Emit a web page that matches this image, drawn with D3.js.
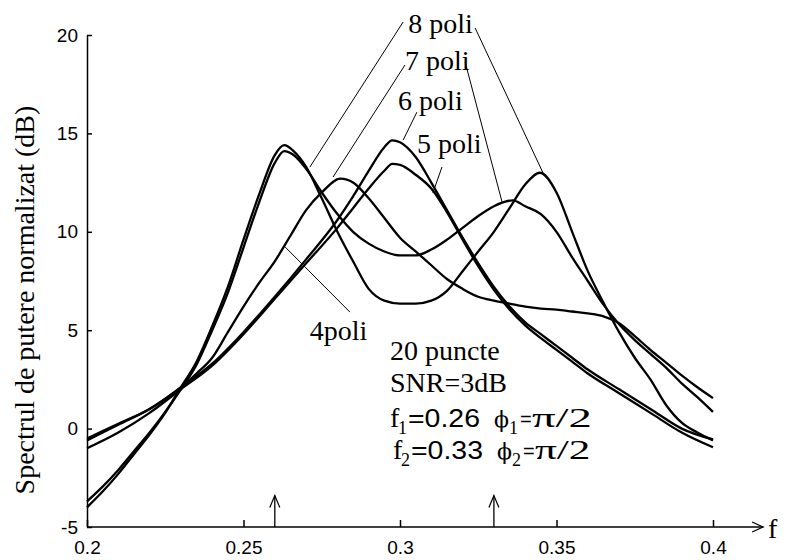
<!DOCTYPE html>
<html><head><meta charset="utf-8">
<script src="https://cdn.jsdelivr.net/npm/d3@7"></script>
<style>body{margin:0;background:#fff} svg{display:block}</style>
</head><body>
<svg id="chart" width="793" height="560"></svg>
<script>
// ---------- data ----------
const xTicks = [0.2, 0.25, 0.3, 0.35, 0.4];
const yTicks = [-5, 0, 5, 10, 15, 20];

const f8 = [0.200,0.205,0.210,0.215,0.220,0.225,0.230,0.235,0.240,0.245,0.250,0.255,0.260,0.263,0.266,0.270,0.275,0.280,0.285,0.290,0.295,0.300,0.305,0.310,0.315,0.320,0.325,0.330,0.335,0.340,0.3447,0.350,0.355,0.360,0.365,0.370,0.375,0.380,0.385,0.390,0.395,0.400];
const db8 = [-4.0,-3.2,-2.3,-1.3,-0.3,0.8,2.1,3.4,5.2,7.2,9.6,11.9,13.9,14.4,14.1,13.3,11.7,10.0,8.5,7.1,6.5,6.35,6.35,6.5,7.0,8.0,9.0,10.0,11.2,12.4,13.0,12.0,10.0,8.0,6.4,4.9,3.6,2.5,1.2,0.3,-0.2,-0.6];

const f7 = [0.200,0.205,0.210,0.215,0.220,0.225,0.230,0.235,0.240,0.245,0.250,0.255,0.260,0.263,0.266,0.270,0.275,0.280,0.285,0.290,0.295,0.300,0.305,0.310,0.315,0.320,0.325,0.330,0.336,0.340,0.345,0.350,0.355,0.360,0.365,0.370,0.375,0.380,0.385,0.390,0.395,0.400];
const db7 = [-3.7,-2.95,-2.1,-1.15,-0.2,0.85,2.0,3.25,5.0,6.9,9.2,11.5,13.5,14.1,13.9,13.2,12.0,10.9,10.0,9.4,9.0,8.8,8.8,9.1,9.6,10.2,10.8,11.3,11.6,11.3,10.9,10.0,8.7,7.5,6.3,5.3,4.5,3.8,3.1,2.3,1.6,0.85];

const f6 = [0.200,0.210,0.220,0.230,0.240,0.250,0.260,0.270,0.280,0.285,0.290,0.295,0.2975,0.300,0.305,0.310,0.315,0.320,0.325,0.330,0.335,0.340,0.345,0.350,0.355,0.360,0.370,0.380,0.390,0.400];
const db6 = [-0.5,0.25,1.0,2.1,3.3,4.9,6.7,8.6,10.6,11.8,13.1,14.3,14.65,14.55,13.8,12.5,11.1,9.7,8.4,7.2,6.2,5.4,4.8,4.2,3.6,3.0,2.0,1.0,0.0,-0.55];

const f5 = f6;
const db5 = [-1.0,-0.2,0.8,2.0,3.2,4.8,6.6,8.4,10.2,11.2,12.2,13.1,13.45,13.4,12.9,12.2,11.0,9.6,8.25,7.05,6.05,5.25,4.6,4.0,3.4,2.8,1.8,0.8,-0.2,-0.95];

const f4 = [0.200,0.210,0.220,0.230,0.235,0.240,0.245,0.250,0.255,0.260,0.265,0.270,0.275,0.281,0.285,0.290,0.295,0.300,0.305,0.310,0.315,0.320,0.325,0.330,0.335,0.340,0.345,0.350,0.355,0.360,0.365,0.370,0.375,0.380,0.385,0.390,0.395,0.400];
const db4 = [-0.6,0.2,1.0,2.1,2.8,3.6,4.9,6.2,7.4,8.5,9.8,11.1,12.0,12.7,12.5,11.7,10.7,9.7,9.0,8.3,7.6,7.1,6.7,6.5,6.35,6.2,6.1,6.05,5.95,5.85,5.7,5.35,4.7,4.0,3.35,2.7,2.1,1.55];

const seriesNames = ["8 poli", "7 poli", "6 poli", "5 poli", "4poli"];

// label anchors (f, dB) and leader lines [f1, dB1, f2, dB2]
const labelF  = [0.3026, 0.3016, 0.2994, 0.3054, 0.2712];
const labelDb = [20.10, 18.22, 16.19, 14.00, 4.50];
const leaders = [
  [0.3010, 20.66, 0.2712, 13.29],
  [0.3240, 20.36, 0.3457, 12.99],
  [0.3016, 18.48, 0.2786, 12.78],
  [0.3208, 18.63, 0.3326, 11.52],
  [0.3054, 16.08, 0.3010, 14.66],
  [0.3134, 13.29, 0.3105, 11.97],
  [0.2840, 5.92, 0.2633, 9.23]
];

// true frequencies marked by arrows
const trueFreqs = [0.26, 0.33];
const axisEndF = 0.416;

const infoLines = ["20 puncte", "SNR=3dB"];
const freqSub = ["1", "2"];
const freqVal = ["=0.26", "=0.33"];

// ---------- drawing ----------
const svg = d3.select("#chart");
const x = d3.scaleLinear().domain([0.2, 0.4]).range([87, 713]);
const y = d3.scaleLinear().domain([-5, 20]).range([527, 35]);

const serif = "'Liberation Serif','Times New Roman',serif";
const sans = "'Liberation Sans',Arial,sans-serif";

svg.append("rect").attr("width", 793).attr("height", 560).attr("fill", "#fff");

// y axis
const gy = svg.append("g").attr("transform", `translate(${x(0.2)},0)`)
  .call(d3.axisLeft(y).tickValues(yTicks).tickSizeInner(-5).tickSizeOuter(0).tickPadding(9).tickFormat(d => String(d)));
gy.attr("font-family", sans).attr("font-size", 19);
gy.select(".domain").attr("stroke", "#000").attr("stroke-width", 1.5);
gy.selectAll(".tick line").attr("stroke", "#000").attr("stroke-width", 1.5);
gy.selectAll("text").attr("fill", "#000");

// x axis
const gx = svg.append("g").attr("transform", `translate(0,${y(-5)})`)
  .call(d3.axisBottom(x).tickValues(xTicks).tickSizeInner(-7).tickSizeOuter(0).tickPadding(13.5).tickFormat(d => String(d)));
gx.attr("font-family", sans).attr("font-size", 19);
gx.select(".domain").remove();
gx.selectAll(".tick line").attr("stroke", "#000").attr("stroke-width", 1.5);
gx.selectAll("text").attr("fill", "#000");

const y0 = y(-5);
const xe = x(axisEndF);
svg.append("line").attr("x1", x(0.2)).attr("x2", xe).attr("y1", y0).attr("y2", y0)
  .attr("stroke", "#000").attr("stroke-width", 1.5);
svg.append("path").attr("d", `M${xe - 11},${y0 - 5}L${xe},${y0}L${xe - 11},${y0 + 5}`)
  .attr("fill", "none").attr("stroke", "#000").attr("stroke-width", 1.3);
svg.append("text").attr("x", xe + 5).attr("y", y0 + 11).attr("font-family", serif)
  .attr("font-size", 28).text("f");

// y title
svg.append("text").attr("transform", "translate(34,300) rotate(-90)")
  .attr("text-anchor", "middle").attr("font-family", serif).attr("font-size", 28)
  .text("Spectrul de putere normalizat (dB)");

// curves
const series = [[f8, db8], [f7, db7], [f6, db6], [f5, db5], [f4, db4]];
const line = d3.line().x(d => x(d[0])).y(d => y(d[1])).curve(d3.curveMonotoneX);
series.forEach(([fs, ds]) => {
  svg.append("path").datum(d3.zip(fs, ds)).attr("d", line)
    .attr("fill", "none").attr("stroke", "#000").attr("stroke-width", 2.3)
    .attr("stroke-linejoin", "round");
});

// leader lines
leaders.forEach(l => {
  svg.append("line").attr("x1", x(l[0])).attr("y1", y(l[1])).attr("x2", x(l[2])).attr("y2", y(l[3]))
    .attr("stroke", "#000").attr("stroke-width", 1);
});

// labels
seriesNames.forEach((n, i) => {
  svg.append("text").attr("x", x(labelF[i])).attr("y", y(labelDb[i]))
    .attr("font-family", serif).attr("font-size", 28).text(n);
});

// true frequency arrows
trueFreqs.forEach(fq => {
  const ax = x(fq), top = y(-3.4);
  svg.append("line").attr("x1", ax).attr("x2", ax).attr("y1", y0).attr("y2", top)
    .attr("stroke", "#000").attr("stroke-width", 1.3);
  svg.append("path").attr("d", `M${ax - 5},${top + 12}L${ax},${top}L${ax + 5},${top + 12}`)
    .attr("fill", "none").attr("stroke", "#000").attr("stroke-width", 1.2);
});

// info block
const bx = x(0.2968);
const infoDb = [3.49, 1.86];
infoLines.forEach((t, i) => {
  svg.append("text").attr("x", bx).attr("y", y(infoDb[i]))
    .attr("font-family", serif).attr("font-size", 28).text(t);
});
const freqDb = [0.08, -1.55];
const lineShift = [0, 3];
freqSub.forEach((s, i) => {
  const by = y(freqDb[i]);
  const x0 = bx + lineShift[i];
  const g = svg.append("g").attr("fill", "#000");
  g.append("text").attr("x", x0).attr("y", by).attr("font-family", serif).attr("font-size", 28).text("f");
  g.append("text").attr("x", x0 + 8).attr("y", by + 7).attr("font-family", serif).attr("font-size", 18).text(s);
  g.append("text").attr("x", x0 + 18).attr("y", by).attr("font-family", sans).attr("font-size", 25)
    .attr("textLength", 72).attr("lengthAdjust", "spacingAndGlyphs").text(freqVal[i]);
  g.append("text").attr("x", x0 + 104).attr("y", by).attr("font-family", "'DejaVu Serif','Liberation Serif',serif").attr("font-size", 22).text("ϕ");
  g.append("text").attr("x", x0 + 119).attr("y", by + 7).attr("font-family", serif).attr("font-size", 18).text(s);
  g.append("text").attr("x", x0 + 130).attr("y", by - 1).attr("font-family", sans).attr("font-size", 20).text("=");
  g.append("text").attr("x", x0 + 142).attr("y", by).attr("font-family", serif).attr("font-size", 28)
    .attr("textLength", 60 - lineShift[i] * 1.5).attr("lengthAdjust", "spacingAndGlyphs").text("π/2");
});
</script>
</body></html>
